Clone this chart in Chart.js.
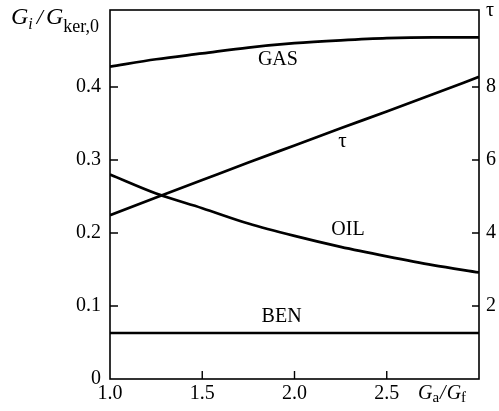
<!DOCTYPE html>
<html>
<head>
<meta charset="utf-8">
<script src="https://cdn.jsdelivr.net/npm/chart.js@4.4.1/dist/chart.umd.min.js"></script>
<style>
  html, body { margin: 0; padding: 0; background: #fff; }
  #wrap { width: 499px; height: 411px; }
</style>
</head>
<body>
<div id="wrap"><canvas id="chart" width="499" height="411"></canvas></div>
<script>
// ratio G_a / G_f
var ratio = [1.0, 1.25, 1.5, 1.75, 2.0, 2.25, 2.5, 2.75, 3.0];
// G_i / G_ker,0
var gas = [0.428, 0.438, 0.446, 0.454, 0.460, 0.464, 0.467, 0.468, 0.468];
var oil = [0.280, 0.254, 0.234, 0.213, 0.196, 0.181, 0.168, 0.156, 0.146];
var ben = [0.063, 0.063, 0.063, 0.063, 0.063, 0.063, 0.063, 0.063, 0.063];
// tau, right axis
var tau = [4.49, 4.97, 5.45, 5.93, 6.40, 6.87, 7.33, 7.80, 8.28];

var xTicks = [1.0, 1.5, 2.0, 2.5, 3.0];
var yTicks = [0, 0.1, 0.2, 0.3, 0.4];
var tauTicks = [2, 4, 6, 8];

var serif = "'Liberation Serif', 'DejaVu Serif', serif";

function pts(ys) {
      var out = [];
      for (var i = 0; i < ratio.length; i++) out.push({x: ratio[i], y: ys[i]});
      return out;
}

function line(label, ys, axis) {
      return {
            label: label,
            data: pts(ys),
            yAxisID: axis,
            borderColor: "#000",
            borderWidth: 2.7,
            pointRadius: 0,
            fill: false,
            cubicInterpolationMode: "monotone"
      };
}

// draws text runs like G_i / G_ker,0
function runs(ctx, x, y, parts) {
      parts.forEach(function(p) {
            ctx.font = p.f;
            ctx.fillText(p.t, x, y + (p.dy || 0));
            x += ctx.measureText(p.t).width + (p.gap || 0);
      });
}

// keep the plot box where it is in the picture
function noPad(s) {
      s.paddingTop = 0;
      s.paddingBottom = 0;
}

var decor = {
      id: "decor",
      afterDraw: function(chart) {
            var ctx = chart.ctx;
            var a = chart.chartArea;
            var sx = chart.scales.x, sy = chart.scales.y, st = chart.scales.y2;
            ctx.save();
            ctx.strokeStyle = "#000";
            ctx.fillStyle = "#000";
            ctx.lineWidth = 1.6;
            ctx.strokeRect(a.left, a.top, a.right - a.left, a.bottom - a.top);

            // inward ticks
            ctx.lineWidth = 1.4;
            ctx.beginPath();
            xTicks.forEach(function(v) {
                  if (v <= 1.0 || v >= 3.0) return;
                  var px = sx.getPixelForValue(v);
                  ctx.moveTo(px, a.bottom);
                  ctx.lineTo(px, a.bottom - 8);
            });
            yTicks.forEach(function(v) {
                  if (v === 0) return;
                  var py = sy.getPixelForValue(v);
                  ctx.moveTo(a.left, py);
                  ctx.lineTo(a.left + 8, py);
            });
            tauTicks.forEach(function(v) {
                  var py = st.getPixelForValue(v);
                  ctx.moveTo(a.right, py);
                  ctx.lineTo(a.right - 7, py);
            });
            ctx.stroke();

            // curve names
            ctx.textAlign = "center";
            ctx.textBaseline = "middle";
            ctx.font = "20px " + serif;
            ctx.fillText("GAS", sx.getPixelForValue(1.91), sy.getPixelForValue(0.437));
            ctx.fillText("OIL", sx.getPixelForValue(2.29), sy.getPixelForValue(0.204));
            ctx.fillText("BEN", sx.getPixelForValue(1.93), sy.getPixelForValue(0.085));
            ctx.font = "21px " + serif;
            ctx.fillText("\u03c4", sx.getPixelForValue(2.26), st.getPixelForValue(6.5));

            // axis titles
            ctx.textAlign = "left";
            ctx.textBaseline = "alphabetic";
            runs(ctx, 11, 24, [
                  {t: "G", f: "italic 24px " + serif},
                  {t: "i", f: "italic 16px " + serif, dy: 5, gap: 4},
                  {t: "/", f: "italic 22px " + serif, gap: 3},
                  {t: "G", f: "italic 24px " + serif},
                  {t: "ker,0", f: "18px " + serif, dy: 8}
            ]);
            runs(ctx, 418, 399, [
                  {t: "G", f: "italic 20px " + serif},
                  {t: "a", f: "15px " + serif, dy: 3, gap: 1},
                  {t: "/", f: "italic 20px " + serif, gap: 1},
                  {t: "G", f: "italic 20px " + serif},
                  {t: "f", f: "15px " + serif, dy: 3}
            ]);
            ctx.font = "20px " + serif;
            ctx.fillText("\u03c4", 486, 16);
            ctx.restore();
      }
};

var ctx1 = document.getElementById("chart");

var chart = new Chart(ctx1, {
      type: "line",
      data: {
            datasets: [
                  line("GAS", gas, "y"),
                  line("OIL", oil, "y"),
                  line("BEN", ben, "y"),
                  line("tau", tau, "y2")
            ]
      },
      options: {
            responsive: false,
            animation: false,
            events: [],
            layout: { padding: { top: 10, left: 0, right: 0, bottom: 0 } },
            plugins: { legend: { display: false }, tooltip: { enabled: false } },
            scales: {
                  x: {
                        type: "linear",
                        min: 1.0,
                        max: 3.0,
                        afterBuildTicks: function(s) { s.ticks = xTicks.map(function(v) { return {value: v}; }); },
                        afterFit: function(s) { s.height = 32; s.paddingLeft = 0; s.paddingRight = 0; },
                        grid: { display: false, drawTicks: false },
                        border: { display: false },
                        ticks: {
                              padding: 3,
                              color: "#000",
                              font: { family: serif, size: 20 },
                              maxRotation: 0,
                              autoSkip: false,
                              callback: function(v) { return v >= 3 ? "" : v.toFixed(1); }
                        }
                  },
                  y: {
                        position: "left",
                        min: 0,
                        max: 0.5055,
                        afterBuildTicks: function(s) { s.ticks = yTicks.map(function(v) { return {value: v}; }); },
                        afterFit: function(s) { s.width = 110; noPad(s); },
                        grid: { display: false, drawTicks: false },
                        border: { display: false },
                        ticks: {
                              padding: 9,
                              color: "#000",
                              font: { family: serif, size: 20 },
                              callback: function(v) { return v === 0 ? "0" : v.toFixed(1); }
                        }
                  },
                  y2: {
                        position: "right",
                        min: 0,
                        max: 10.11,
                        afterBuildTicks: function(s) { s.ticks = tauTicks.map(function(v) { return {value: v}; }); },
                        afterFit: function(s) { s.width = 20; noPad(s); },
                        grid: { display: false, drawTicks: false },
                        border: { display: false },
                        ticks: {
                              padding: 7,
                              color: "#000",
                              font: { family: serif, size: 20 }
                        }
                  }
            }
      },
      plugins: [decor]
});
</script>
</body>
</html>
